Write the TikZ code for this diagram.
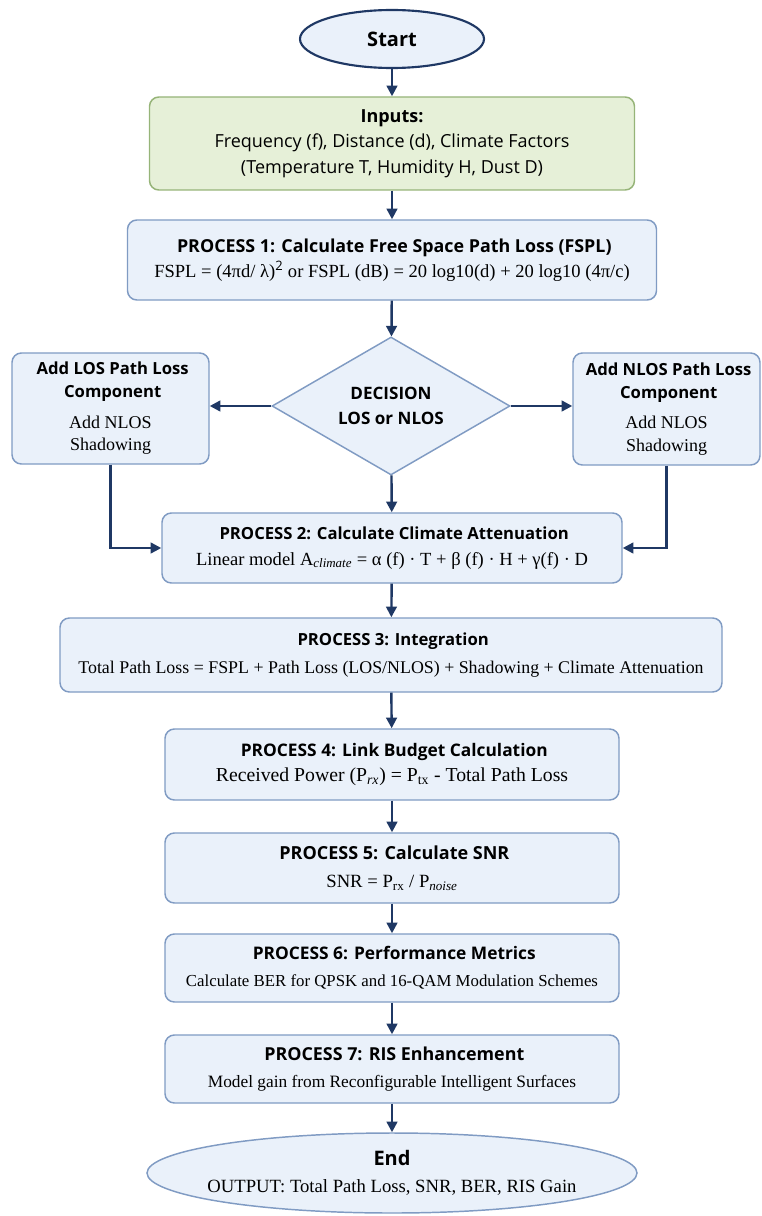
\documentclass[tikz,border=0pt]{standalone}
\usepackage{fontspec}
\setmainfont{Liberation Serif}
\setsansfont{Open Sans}
\usepackage{tikz}
\usetikzlibrary{positioning,arrows.meta,shapes.geometric}

\definecolor{navy}{RGB}{31,56,100}
\definecolor{boxfill}{RGB}{234,241,250}
\definecolor{boxline}{RGB}{128,155,195}
\definecolor{infill}{RGB}{230,240,216}
\definecolor{inline}{RGB}{150,180,120}
\newcommand{\hdfont}[1][13]{\sffamily\bfseries\fontsize{#1}{17}\selectfont}
\newcommand{\bodyfont}[1][13.5]{\fontsize{#1}{17}\selectfont}

\begin{document}
\begin{tikzpicture}[x=0.75pt,y=-0.75pt,
  pbox/.style={draw=boxline,fill=boxfill,line width=1.1pt,rounded corners=7pt,
    align=center,inner sep=0pt,font=\bodyfont},
  term/.style={ellipse,draw=navy,fill=boxfill,line width=1.6pt,inner sep=0pt,align=center},
  arr/.style={draw=navy,line width=1.8pt,-{Triangle[length=8pt,width=8pt]}}]
\def\u{0.75pt}
\useasboundingbox (0,0) rectangle (761,1216);
% start / inputs / first process
\node[term,minimum width=184*\u,minimum height=58*\u,font=\sffamily\bfseries\fontsize{15}{17}\selectfont] (start) at (392,39) {Start};
\node[pbox,draw=inline,fill=infill,minimum width=485*\u,minimum height=93*\u,font=\sffamily\fontsize{13.5}{19}\selectfont] (inputs) at (392,143.5)
  {{\bfseries Inputs:}\\Frequency (f), Distance (d), Climate Factors\\(Temperature T, Humidity H, Dust D)};
\node[pbox,minimum width=529*\u,minimum height=80*\u] (p1) at (392,260)
  {{\hdfont[13.4] PROCESS 1: Calculate Free Space Path Loss (FSPL)}\\[2pt]
   {\bodyfont[13.9]FSPL = (4πd/ λ)\textsuperscript{\sffamily 2} or FSPL (dB) = 20 log10(d) + 20 log10 (4π/c)}};
% decision and both branches
\node[diamond,draw=boxline,fill=boxfill,line width=1.1pt,inner sep=0pt,aspect=1.72,
  minimum width=238*\u,minimum height=138*\u,align=center,font=\sffamily\bfseries\fontsize{12.8}{19}\selectfont] (dec) at (391,406)
  {DECISION\\LOS or NLOS};
\node[pbox,minimum width=197*\u,minimum height=111*\u] (los) at (110.5,408.5)
  {{\hdfont[12.5] Add LOS Path Loss}\\{\hdfont[12.5] Component}\\[6pt]Add NLOS\\Shadowing};
\node[pbox,minimum width=187*\u,minimum height=112*\u] (nlos) at (666.5,409)
  {{\hdfont[12.5] Add NLOS Path Loss}\\{\hdfont[12.5] Component}\\[6pt]Add NLOS\\Shadowing};
% main chain
\node[pbox,minimum width=460*\u,minimum height=70*\u] (p2) at (392,548)
  {{\hdfont[12.5] PROCESS 2: Calculate Climate Attenuation}\\[2pt]
   {\bodyfont[13.9]Linear model A\textsubscript{\itshape climate} = α (f) · T + β (f) · H + γ(f) · D}};
\node[pbox,minimum width=662*\u,minimum height=74*\u] (p3) at (391,655)
  {{\hdfont[12.5] PROCESS 3: Integration}\\[4pt]
   {\bodyfont[13.4]Total Path Loss = FSPL + Path Loss (LOS/NLOS) + Shadowing + Climate Attenuation}};
\node[pbox,minimum width=454*\u,minimum height=71*\u] (p4) at (392,764.5)
  {{\hdfont[13] PROCESS 4: Link Budget Calculation}\\[2pt]
   {\bodyfont[14.8]Received Power (P\textsubscript{\itshape rx}) = P\textsubscript{tx} - Total Path Loss}};
\node[pbox,minimum width=454*\u,minimum height=70*\u] (p5) at (392,868)
  {{\hdfont[13.5] PROCESS 5: Calculate SNR}\\[4pt]
   {\bodyfont[14]SNR = P\textsubscript{rx} / P\textsubscript{\itshape noise}}};
\node[pbox,minimum width=454*\u,minimum height=68*\u] (p6) at (392,968)
  {{\hdfont[13] PROCESS 6: Performance Metrics}\\[3pt]
   {\bodyfont[12.6]Calculate BER for QPSK and 16-QAM Modulation Schemes}};
\node[pbox,minimum width=454*\u,minimum height=68*\u] (p7) at (392,1069)
  {{\hdfont[13.4] PROCESS 7: RIS Enhancement}\\[3pt]
   {\bodyfont[13]Model gain from Reconfigurable Intelligent Surfaces}};
\node[term,draw=boxline,line width=1.1pt,inner xsep=-12pt,minimum width=490*\u,minimum height=80*\u,font=\fontsize{14}{20}\selectfont] (end) at (392,1173)
  {{\sffamily\bfseries\fontsize{15}{17}\selectfont End}\\OUTPUT: Total Path Loss, SNR, BER, RIS Gain};
% connectors
\draw[arr] (start) -- (inputs);
\draw[arr] (inputs) -- (p1);
\draw[arr] (p1) -- (dec);
\draw[arr] (dec.west) -- (dec.west -| los.east);
\draw[arr] (dec.east) -- (dec.east -| nlos.west);
\draw[arr] (dec) -- (p2);
\draw[arr] (los.south) |- (p2.west);
\draw[arr] (nlos.south) |- (p2.east);
\draw[arr] (p2) -- (p3);
\draw[arr] (p3) -- (p4);
\draw[arr] (p4) -- (p5);
\draw[arr] (p5) -- (p6);
\draw[arr] (p6) -- (p7);
\draw[arr] (p7) -- (end);
\end{tikzpicture}
\end{document}
